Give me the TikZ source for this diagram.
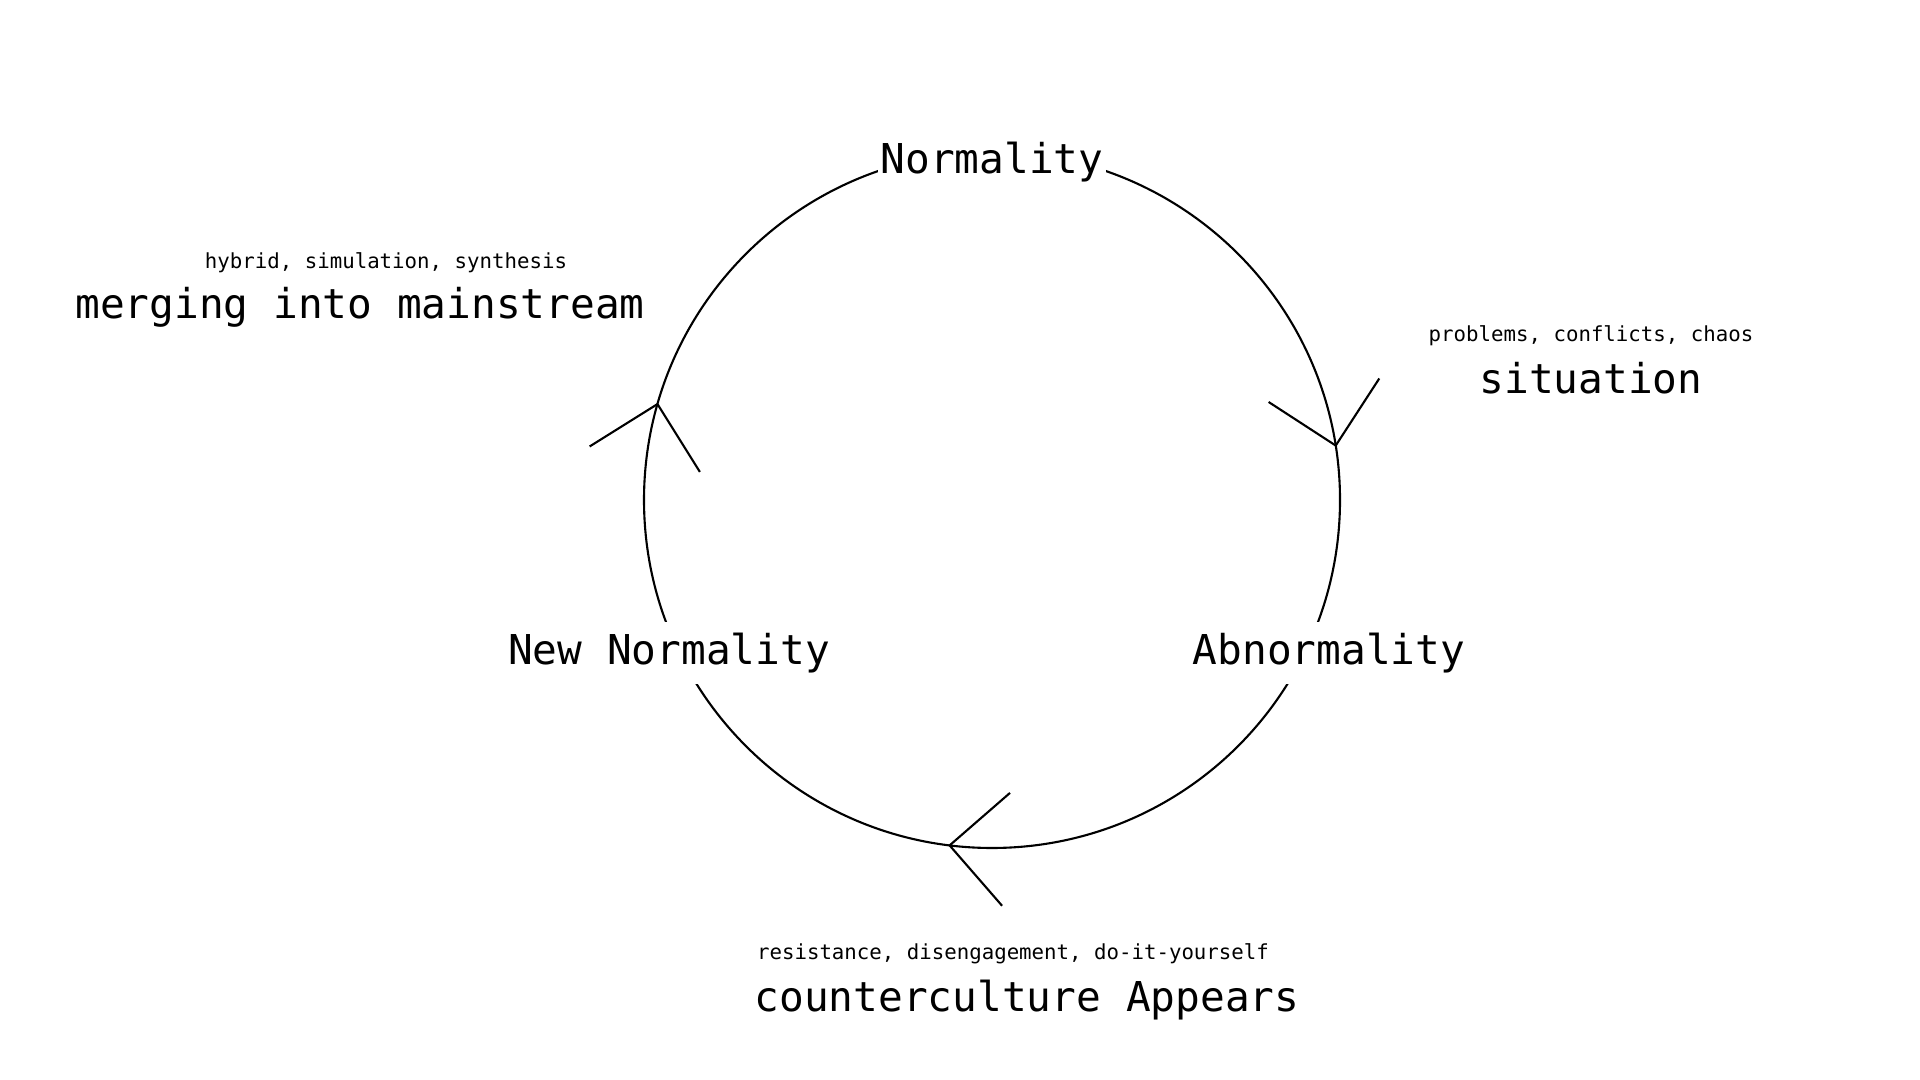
\documentclass[tikz,border=0pt]{standalone}
\usepackage{fontspec}
\setmainfont{DejaVu Sans Mono}
\usetikzlibrary{positioning}

\begin{document}
\begin{tikzpicture}[line width=0.6pt,
    stage/.style={fill=white,inner xsep=0.03cm,inner ysep=0.09cm,
      font=\fontsize{11.7}{14}\selectfont,text height=9.4pt,text depth=2.9pt},
    phase/.style={inner sep=0pt,font=\fontsize{11.7}{14}\selectfont,
      text height=9.4pt,text depth=2.9pt},
    remark/.style={inner sep=0pt,font=\fontsize{5.9}{7}\selectfont,
      text height=4.7pt,text depth=1.5pt}]
\useasboundingbox (0,0) rectangle (19.2,10.8);
\node[circle,draw,inner sep=0pt,outer sep=0pt,minimum size=6.96cm] (ring) at (9.92,5.80) {};
\node[stage] (norm) at (9.92,9.18) {Normality};
\node[stage] (abnorm) at (13.29,4.27) {Abnormality};
\node[stage] (newnorm) at (6.69,4.27) {New Normality};
% open arrowheads on the ring, clockwise
\foreach \a in {9,263,164}
  \draw (ring.\a) -- ++(\a+48:0.8) (ring.\a) -- ++(\a+138:0.8);
\node[phase] (situation) at (15.91,6.98) {situation};
\node[remark] (situationnote) at (15.91,7.44) {problems, conflicts, chaos};
\node[phase] (counter) at (10.27,0.80) {counterculture Appears};
\node[remark] (counternote) at (10.13,1.26) {resistance, disengagement, do-it-yourself};
\node[phase] (merge) at (3.60,7.73) {merging into mainstream};
\node[remark] (mergenote) at (3.86,8.17) {hybrid, simulation, synthesis};
\end{tikzpicture}
\end{document}
